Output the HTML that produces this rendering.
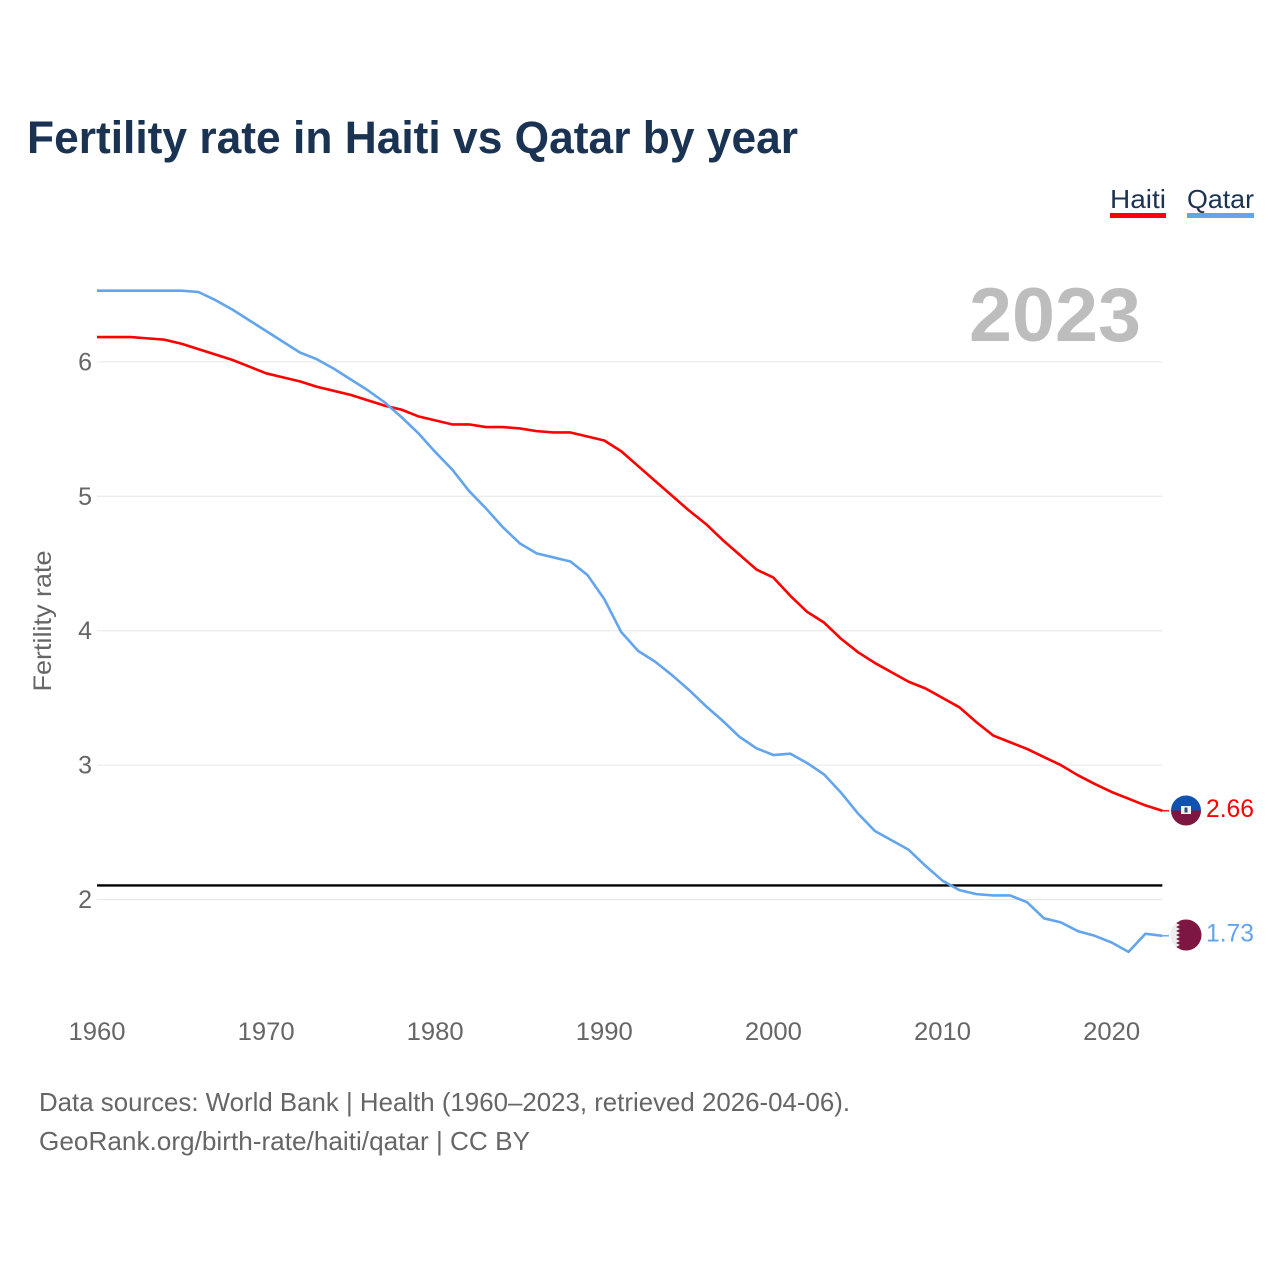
<!DOCTYPE html>
<html lang="en">
<head>
<meta charset="utf-8">
<title>Fertility rate in Haiti vs Qatar by year</title>
<style>
html,body{margin:0;padding:0;background:#fff;width:1280px;height:1280px;overflow:hidden}
svg{display:block}
text{font-family:"Liberation Sans",sans-serif}
</style>
</head>
<body>
<svg id="chart" width="1280" height="1280" viewBox="0 0 1280 1280" xmlns="http://www.w3.org/2000/svg">
  <defs>
    <clipPath id="clip-haiti"><circle cx="1186" cy="810.5" r="15"/></clipPath>
    <clipPath id="clip-qatar"><circle cx="1186" cy="935" r="15.5"/></clipPath>
  </defs>
  <text x="27" y="153" font-size="45" font-weight="700" fill="#1a3353" textLength="771" lengthAdjust="spacingAndGlyphs">Fertility rate in Haiti vs Qatar by year</text>

  <g>
    <text x="1110" y="208" font-size="26" fill="#1a3353" textLength="56" lengthAdjust="spacingAndGlyphs">Haiti</text>
    <rect x="1110" y="213" width="56" height="5" fill="#ff0000"/>
  </g>
  <g>
    <text x="1187" y="208" font-size="26" fill="#1a3353" textLength="67" lengthAdjust="spacingAndGlyphs">Qatar</text>
    <rect x="1187" y="213" width="67" height="5" fill="#63a5ec"/>
  </g>

  <text x="969" y="341" font-size="76" font-weight="700" fill="#bdbdbd" textLength="172" lengthAdjust="spacingAndGlyphs">2023</text>

  <g id="grid"></g>
  <g id="y-ticks"></g>
  <g id="x-ticks"></g>

  <text transform="translate(51,621) rotate(-90)" text-anchor="middle" font-size="25" fill="#666" textLength="141" lengthAdjust="spacingAndGlyphs">Fertility rate</text>

  <line id="ref-line" stroke="#000" stroke-width="2.4"/>

  <path id="line-haiti" fill="none" stroke="#ff0000" stroke-width="2.6" stroke-linejoin="round"/>
  <path id="line-qatar" fill="none" stroke="#63a5ec" stroke-width="2.6" stroke-linejoin="round"/>
  <line id="lead-haiti" stroke="#ff0000" stroke-width="1.4"/>
  <line id="lead-qatar" stroke="#63a5ec" stroke-width="1.4"/>

  <g id="flag-haiti" clip-path="url(#clip-haiti)">
    <rect x="1170" y="795" width="32" height="16" fill="#0f52b0"/>
    <rect x="1170" y="810.5" width="32" height="16" fill="#7d1640"/>
    <rect x="1181" y="806" width="10" height="8" fill="#f2f2f2"/>
    <rect x="1184.5" y="807.5" width="3" height="5" fill="#2b4c7e"/>
  </g>
  <g id="flag-qatar" clip-path="url(#clip-qatar)">
    <rect x="1170" y="919" width="32" height="32" fill="#eeeeee"/>
    <polygon fill="#7d1640" points="1202,919 1176,919 1180,921 1176,923 1180,925 1176,927 1180,929 1176,931 1180,933 1176,935 1180,937 1176,939 1180,941 1176,943 1180,945 1176,947 1180,949 1176,951 1202,951"/>
  </g>

  <text id="value-haiti" x="1206" y="817" font-size="25" fill="#ff0000" textLength="48" lengthAdjust="spacingAndGlyphs"></text>
  <text id="value-qatar" x="1206" y="941.5" font-size="25" fill="#63a5ec" textLength="48" lengthAdjust="spacingAndGlyphs"></text>

  <text x="39" y="1111" font-size="26" fill="#666" textLength="811" lengthAdjust="spacingAndGlyphs">Data sources: World Bank | Health (1960–2023, retrieved 2026-04-06).</text>
  <text x="39" y="1150" font-size="26" fill="#666" textLength="491" lengthAdjust="spacingAndGlyphs">GeoRank.org/birth-rate/haiti/qatar | CC BY</text>
</svg>
<script>
const firstYear = 1960;
const xTickLabels = [1960, 1970, 1980, 1990, 2000, 2010, 2020];
const yTickLabels = [2, 3, 4, 5, 6];
const referenceValue = 2.105;
const haitiValues = [6.185,6.185,6.185,6.175,6.165,6.135,6.095,6.055,6.015,5.965,5.915,5.885,5.855,5.815,5.785,5.755,5.715,5.675,5.645,5.595,5.565,5.535,5.535,5.515,5.515,5.505,5.485,5.475,5.475,5.445,5.415,5.335,5.225,5.115,5.005,4.895,4.795,4.675,4.565,4.455,4.395,4.26,4.14,4.06,3.94,3.84,3.76,3.69,3.62,3.57,3.50,3.43,3.32,3.22,3.17,3.12,3.06,3.00,2.925,2.86,2.80,2.75,2.70,2.66];
const qatarValues = [6.53,6.53,6.53,6.53,6.53,6.53,6.52,6.46,6.39,6.31,6.23,6.15,6.07,6.02,5.95,5.87,5.79,5.70,5.59,5.47,5.33,5.20,5.04,4.91,4.77,4.65,4.575,4.545,4.515,4.415,4.235,3.99,3.85,3.77,3.67,3.56,3.44,3.33,3.21,3.125,3.075,3.085,3.015,2.93,2.795,2.64,2.51,2.44,2.37,2.25,2.14,2.07,2.04,2.03,2.03,1.98,1.86,1.83,1.765,1.73,1.68,1.61,1.745,1.73];

const NS = 'http://www.w3.org/2000/svg';
const xScale = function (year) { return 97 + (year - 1960) * 16.91; };
const yScale = function (v) { return 899.5 - (v - 2) * 134.4; };
const plotRight = xScale(2023);

function buildPath(values) {
  let d = '';
  values.forEach(function (v, i) {
    d += (i ? 'L' : 'M') + xScale(firstYear + i).toFixed(2) + ' ' + yScale(v).toFixed(2);
  });
  return d;
}

const grid = document.getElementById('grid');
const yTicks = document.getElementById('y-ticks');
yTickLabels.forEach(function (v) {
  const ln = document.createElementNS(NS, 'line');
  
  
  ln.setAttribute('x1', xScale(1960));
  ln.setAttribute('x2', plotRight);
  ln.setAttribute('y1', yScale(v));
  ln.setAttribute('y2', yScale(v));
  ln.setAttribute('stroke', '#e6e6e6');
  ln.setAttribute('stroke-width', '1');
  grid.appendChild(ln);

  const t = document.createElementNS(NS, 'text');
  
  
  t.setAttribute('x', 92);
  t.setAttribute('y', yScale(v) + 8.5);
  t.setAttribute('text-anchor', 'end');
  t.setAttribute('font-size', '25');
  t.setAttribute('fill', '#666');
  t.textContent = v;
  yTicks.appendChild(t);
});

const xTicks = document.getElementById('x-ticks');
xTickLabels.forEach(function (yr) {
  const t = document.createElementNS(NS, 'text');
  
  
  t.setAttribute('x', xScale(yr));
  t.setAttribute('y', 1040);
  t.setAttribute('text-anchor', 'middle');
  t.setAttribute('font-size', '25');
  t.setAttribute('fill', '#666');
  t.setAttribute('textLength', '57');
  t.setAttribute('lengthAdjust', 'spacingAndGlyphs');
  t.textContent = yr;
  xTicks.appendChild(t);
});

const ref = document.getElementById('ref-line');
ref.setAttribute('x1', xScale(1960));
ref.setAttribute('x2', plotRight);
ref.setAttribute('y1', yScale(referenceValue));
ref.setAttribute('y2', yScale(referenceValue));

document.getElementById('line-haiti').setAttribute('d', buildPath(haitiValues));
document.getElementById('line-qatar').setAttribute('d', buildPath(qatarValues));

function placeEnd(name, values) {
  const last = values[values.length - 1];
  const y = yScale(last);
  const lead = document.getElementById('lead-' + name);
  lead.setAttribute('x1', plotRight);
  lead.setAttribute('x2', 1169);
  lead.setAttribute('y1', y);
  lead.setAttribute('y2', y);
  document.getElementById('value-' + name).textContent = last.toFixed(2);
}
placeEnd('haiti', haitiValues);
placeEnd('qatar', qatarValues);
</script>
</body>
</html>
